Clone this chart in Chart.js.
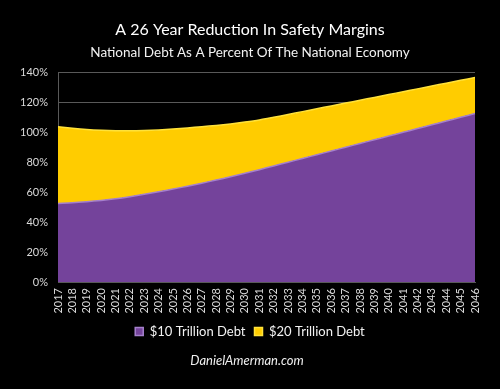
<!DOCTYPE html>
<html>
<head>
<meta charset="utf-8">
<script src="https://cdn.jsdelivr.net/npm/chart.js@4"></script>
<style>
html,body{margin:0;padding:0;background:#000;}
#wrap{position:relative;width:500px;height:389px;}
</style>
</head>
<body>
<div id="wrap"><canvas id="c" width="500" height="389"></canvas></div>
<script>
const years = ["2017","2018","2019","2020","2021","2022","2023","2024","2025","2026","2027","2028","2029","2030","2031","2032","2033","2034","2035","2036","2037","2038","2039","2040","2041","2042","2043","2044","2045","2046"];
const debt10 = [52.5,52.9,53.6,54.5,55.6,57.0,58.6,60.3,62.1,64.0,66.0,68.1,70.3,72.6,75.0,77.5,80.0,82.5,85.0,87.5,90.0,92.5,95.0,97.5,100.0,102.5,105.0,107.5,110.0,112.5];
const debt20 = [103.7,102.7,101.9,101.4,101.1,101.0,101.2,101.6,102.2,102.9,103.7,104.6,105.6,106.8,108.2,110.0,111.9,113.8,115.7,117.6,119.5,121.4,123.3,125.2,127.1,129.0,130.9,132.8,134.7,136.6];
const yTicks = [0,20,40,60,80,100,120,140];
const titleText = "A 26 Year Reduction In Safety Margins";
const subtitleText = "National Debt As A Percent Of The National Economy";
const footerText = "DanielAmerman.com";
const seriesNames = ["$10 Trillion Debt","$20 Trillion Debt"];

const FONT = "Lato, 'Open Sans', sans-serif";

const footerPlugin = {
  id: 'footerText',
  afterDraw(chart){
    const ctx = chart.ctx;
    ctx.save();
    ctx.fillStyle = '#eeeeee';
    ctx.font = 'italic 13px ' + FONT;
    ctx.textAlign = 'center';
    ctx.textBaseline = 'middle';
    ctx.fillText(footerText, 247, 361);
    ctx.restore();
  }
};

new Chart(document.getElementById('c'), {
  type: 'line',
  data: {
    labels: years,
    datasets: [
      {
        label: seriesNames[0],
        data: debt10,
        backgroundColor: '#74439b',
        borderColor: '#a580cc',
        borderWidth: 1.5,
        fill: 'origin',
        pointRadius: 0,
        tension: 0.3
      },
      {
        label: seriesNames[1],
        data: debt20,
        backgroundColor: '#ffcc00',
        borderColor: '#ffe23a',
        borderWidth: 1.5,
        fill: '-1',
        pointRadius: 0,
        tension: 0.3
      }
    ]
  },
  options: {
    responsive: false,
    animation: false,
    layout: { padding: { left: 0, right: 0, top: 0, bottom: 41 } },
    plugins: {
      title: {
        display: true,
        text: titleText,
        color: '#ffffff',
        font: { family: FONT, size: 16, weight: 'normal' },
        padding: { top: 20, bottom: 3 }
      },
      subtitle: {
        display: true,
        text: subtitleText,
        color: '#f2f2f2',
        font: { family: FONT, size: 13.5, weight: 'normal' },
        padding: { top: 2, bottom: 12 }
      },
      legend: {
        position: 'bottom',
        labels: {
          color: '#f2f2f2',
          font: { family: FONT, size: 13 },
          boxWidth: 8,
          boxHeight: 8,
          padding: 9
        }
      },
      tooltip: { enabled: false }
    },
    scales: {
      x: {
        offset: false,
        grid: { display: false, drawTicks: false },
        border: { display: true, color: '#595959' },
        ticks: {
          color: '#d9d9d9',
          font: { family: FONT, size: 11 },
          maxRotation: 90,
          minRotation: 90,
          autoSkip: false,
          padding: 6
        },
        afterFit(s){ s.height = 34; }
      },
      y: {
        min: 0,
        max: 140,
        afterBuildTicks(s){ s.ticks = yTicks.map(v => ({value: v})); },
        grid: { color: '#595959', drawTicks: false },
        border: { display: true, color: '#595959' },
        ticks: {
          color: '#d9d9d9',
          font: { family: FONT, size: 11 },
          padding: 10,
          callback: v => v + '%'
        },
        afterFit(s){ s.width = 58; }
      },
      y2: {
        position: 'right',
        display: true,
        grid: { display: false, drawTicks: false },
        border: { display: false },
        ticks: { display: false },
        afterFit(s){ s.width = 25; }
      }
    }
  },
  plugins: [footerPlugin]
});
</script>
</body>
</html>
